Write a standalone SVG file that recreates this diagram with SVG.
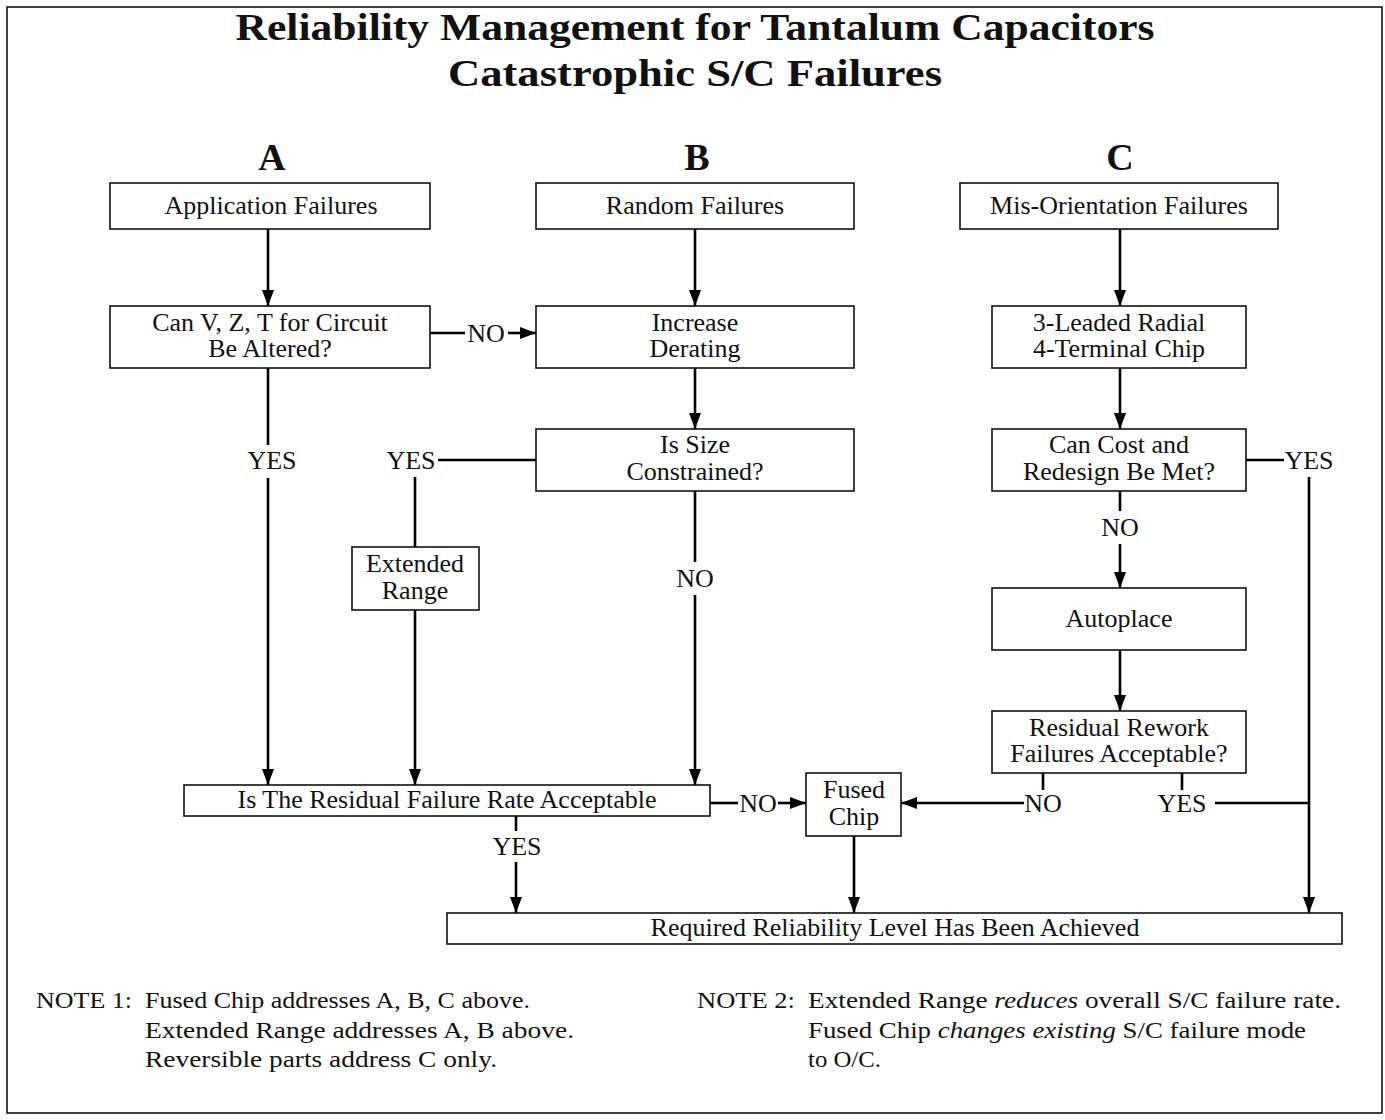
<svg xmlns="http://www.w3.org/2000/svg" width="1385" height="1120" viewBox="0 0 1385 1120">
<style>
text{font-family:"Liberation Serif","DejaVu Serif",serif;fill:#111}
.t{font-size:38px;font-weight:bold;text-anchor:middle}
.n{font-size:26px;text-anchor:middle}
.l{font-size:26px;text-anchor:middle}
.nt{font-size:24px}
rect.b{fill:#fff;stroke:#111;stroke-width:1.6}
.c path,.c line{fill:none;stroke:#000;stroke-width:2.6}
</style>
<defs>
<marker id="ar" viewBox="0 0 16 12" refX="16" refY="6" markerWidth="16" markerHeight="12" markerUnits="userSpaceOnUse" orient="auto">
<path d="M0,0 L16,6 L0,12 Z" fill="#000"/>
</marker>
</defs>
<rect x="7" y="7" width="1375" height="1106" fill="#fff" stroke="#111" stroke-width="1.6"/>
<g id="title">
<text class="t" x="695" y="40" textLength="919" lengthAdjust="spacingAndGlyphs">Reliability Management for Tantalum Capacitors</text>
<text class="t" x="695" y="86" textLength="494" lengthAdjust="spacingAndGlyphs">Catastrophic S/C Failures</text>
<text class="t" x="272" y="170">A</text>
<text class="t" x="697" y="170">B</text>
<text class="t" x="1120" y="170">C</text>
</g>
<g class="c">
<line x1="268" y1="229" x2="268" y2="306" marker-end="url(#ar)"/>
<line x1="695" y1="229" x2="695" y2="306" marker-end="url(#ar)"/>
<line x1="1120" y1="229" x2="1120" y2="306" marker-end="url(#ar)"/>
<line x1="430" y1="333" x2="465" y2="333"/>
<line x1="508" y1="333" x2="536" y2="333" marker-end="url(#ar)"/>
<line x1="268" y1="368" x2="268" y2="445"/>
<line x1="268" y1="478" x2="268" y2="785" marker-end="url(#ar)"/>
<line x1="695" y1="368" x2="695" y2="429" marker-end="url(#ar)"/>
<line x1="536" y1="460" x2="438" y2="460"/>
<line x1="415" y1="477" x2="415" y2="547"/>
<line x1="415" y1="610" x2="415" y2="785" marker-end="url(#ar)"/>
<line x1="695" y1="491" x2="695" y2="562"/>
<line x1="695" y1="595" x2="695" y2="785" marker-end="url(#ar)"/>
<line x1="1120" y1="368" x2="1120" y2="429" marker-end="url(#ar)"/>
<line x1="1246" y1="460" x2="1284" y2="460"/>
<line x1="1309" y1="477" x2="1309" y2="913" marker-end="url(#ar)"/>
<line x1="1120" y1="491" x2="1120" y2="511"/>
<line x1="1120" y1="544" x2="1120" y2="588" marker-end="url(#ar)"/>
<line x1="1120" y1="650" x2="1120" y2="711" marker-end="url(#ar)"/>
<line x1="1043" y1="773" x2="1043" y2="790"/>
<line x1="1024" y1="803" x2="901" y2="803" marker-end="url(#ar)"/>
<line x1="1182" y1="773" x2="1182" y2="790"/>
<line x1="1215" y1="803" x2="1309" y2="803"/>
<line x1="710" y1="803" x2="738" y2="803"/>
<line x1="778" y1="803" x2="806" y2="803" marker-end="url(#ar)"/>
<line x1="516" y1="816" x2="516" y2="831"/>
<line x1="516" y1="862" x2="516" y2="913" marker-end="url(#ar)"/>
<line x1="854" y1="836" x2="854" y2="913" marker-end="url(#ar)"/>
</g>
<g id="labels">
<text class="l" x="486" y="342">NO</text>
<text class="l" x="272" y="469">YES</text>
<text class="l" x="411" y="469">YES</text>
<text class="l" x="695" y="587">NO</text>
<text class="l" x="1309" y="469">YES</text>
<text class="l" x="1120" y="536">NO</text>
<text class="l" x="1043" y="812">NO</text>
<text class="l" x="1182" y="812">YES</text>
<text class="l" x="758" y="812">NO</text>
<text class="l" x="517" y="855">YES</text>
</g>
<g id="n-app"><rect class="b" x="110" y="183" width="320" height="46"/><text class="n" x="271" y="214">Application Failures</text></g>
<g id="n-random"><rect class="b" x="536" y="183" width="318" height="46"/><text class="n" x="695" y="214">Random Failures</text></g>
<g id="n-misor"><rect class="b" x="960" y="183" width="318" height="46"/><text class="n" x="1119" y="214">Mis-Orientation Failures</text></g>
<g id="n-canv"><rect class="b" x="110" y="306" width="320" height="62"/><text class="n" x="270" y="331">Can V, Z, T for Circuit</text><text class="n" x="270" y="357">Be Altered?</text></g>
<g id="n-derate"><rect class="b" x="536" y="306" width="318" height="62"/><text class="n" x="695" y="331">Increase</text><text class="n" x="695" y="357">Derating</text></g>
<g id="n-lead"><rect class="b" x="992" y="306" width="254" height="62"/><text class="n" x="1119" y="331">3-Leaded Radial</text><text class="n" x="1119" y="357">4-Terminal Chip</text></g>
<g id="n-size"><rect class="b" x="536" y="429" width="318" height="62"/><text class="n" x="695" y="453">Is Size</text><text class="n" x="695" y="480">Constrained?</text></g>
<g id="n-cost"><rect class="b" x="992" y="429" width="254" height="62"/><text class="n" x="1119" y="453">Can Cost and</text><text class="n" x="1119" y="480">Redesign Be Met?</text></g>
<g id="n-ext"><rect class="b" x="352" y="547" width="127" height="63"/><text class="n" x="415" y="572">Extended</text><text class="n" x="415" y="599">Range</text></g>
<g id="n-auto"><rect class="b" x="992" y="588" width="254" height="62"/><text class="n" x="1119" y="627">Autoplace</text></g>
<g id="n-rework"><rect class="b" x="992" y="711" width="254" height="62"/><text class="n" x="1119" y="736">Residual Rework</text><text class="n" x="1119" y="762">Failures Acceptable?</text></g>
<g id="n-resid"><rect class="b" x="184" y="785" width="526" height="31"/><text class="n" x="447" y="808">Is The Residual Failure Rate Acceptable</text></g>
<g id="n-fused"><rect class="b" x="806" y="773" width="95" height="63"/><text class="n" x="854" y="798">Fused</text><text class="n" x="854" y="825">Chip</text></g>
<g id="n-req"><rect class="b" x="447" y="913" width="895" height="31"/><text class="n" x="895" y="936">Required Reliability Level Has Been Achieved</text></g>
<g id="notes">
<text class="nt" x="36" y="1008" textLength="96" lengthAdjust="spacingAndGlyphs">NOTE 1:</text>
<text class="nt" x="145" y="1008" textLength="385" lengthAdjust="spacingAndGlyphs">Fused Chip addresses A, B, C above.</text>
<text class="nt" x="145" y="1038" textLength="429" lengthAdjust="spacingAndGlyphs">Extended Range addresses A, B above.</text>
<text class="nt" x="145" y="1067" textLength="352" lengthAdjust="spacingAndGlyphs">Reversible parts address C only.</text>
<text class="nt" x="697" y="1008" textLength="98" lengthAdjust="spacingAndGlyphs">NOTE 2:</text>
<text class="nt" x="808" y="1008" textLength="533" lengthAdjust="spacingAndGlyphs">Extended Range <tspan font-style="italic">reduces</tspan> overall S/C failure rate.</text>
<text class="nt" x="808" y="1038" textLength="498" lengthAdjust="spacingAndGlyphs">Fused Chip <tspan font-style="italic">changes existing</tspan> S/C failure mode</text>
<text class="nt" x="808" y="1067" textLength="73" lengthAdjust="spacingAndGlyphs">to O/C.</text>
</g>
</svg>
